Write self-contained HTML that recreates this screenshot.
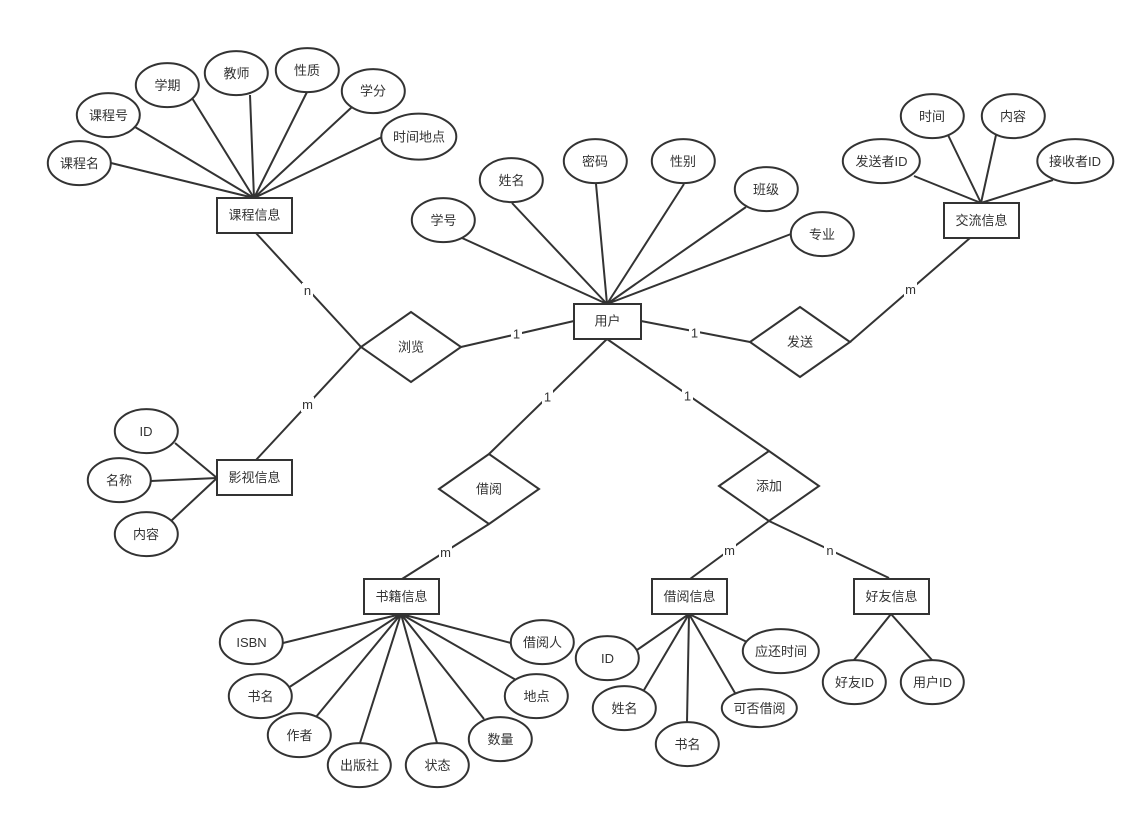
<!DOCTYPE html>
<html><head><meta charset="utf-8"><style>
html,body{margin:0;padding:0;background:#fff}
svg{display:block}
text{font-family:"Liberation Sans","Noto Sans CJK SC",sans-serif;font-size:13px;fill:#333;text-anchor:middle;dominant-baseline:central}
.l{stroke:#333;stroke-width:2;fill:none}
.s{stroke:#333;stroke-width:2;fill:#fff}
.b{fill:#fff;stroke:none}
</style></head><body>
<svg width="1145" height="819" viewBox="0 0 1145 819" xmlns="http://www.w3.org/2000/svg">
<g class="l">
<path d="M111 163L254 198M135 127L254 198M192 98L254 198M250 95L254 198M307 92L254 198M352 107L254 198M382 137L254 198"/>
<path d="M462 238L607 304M512 203L607 304M596 184L607 304M684 184L607 304M746 207L607 304M791 234L607 304"/>
<path d="M914 176L981 203M948 135L981 203M996 135L981 203M1053 180L981 203"/>
<path d="M255 232L361 347L256 460"/>
<path d="M461 347L574 321M641 321L750 342M850 342L970 238"/>
<path d="M607 339L489 454M607 339L769 451"/>
<path d="M489 524L402 579M769 521L690 579M769 521L889 578"/>
<path d="M175 443L217 478M151 481L217 478M171 521L217 478"/>
<path d="M401 614L283 643M401 614L288 688M401 614L316 717M401 614L360 743M401 614L437 743M401 614L484 719M401 614L516 680M401 614L511 643"/>
<path d="M689 614L637 650M689 614L644 690M689 614L687 722M689 614L735 693M689 614L747 642"/>
<path d="M891 614L854 660M891 614L932 660"/>
</g>
<g class="s">
<g transform="translate(-0.2,-0.4)">
<ellipse cx="79.500" cy="163.500" rx="31.500" ry="22"/>
<ellipse cx="108.500" cy="115.500" rx="31.500" ry="22"/>
<ellipse cx="167.500" cy="85.500" rx="31.500" ry="22"/>
<ellipse cx="236.500" cy="73.500" rx="31.500" ry="22"/>
<ellipse cx="307.500" cy="70.500" rx="31.500" ry="22"/>
<ellipse cx="373.500" cy="91.500" rx="31.500" ry="22"/>
<ellipse cx="419" cy="137" rx="37.500" ry="23"/>
<ellipse cx="443.500" cy="220.500" rx="31.500" ry="22"/>
<ellipse cx="511.500" cy="180.500" rx="31.500" ry="22"/>
<ellipse cx="595.500" cy="161.500" rx="31.500" ry="22"/>
<ellipse cx="683.500" cy="161.500" rx="31.500" ry="22"/>
<ellipse cx="766.500" cy="189.500" rx="31.500" ry="22"/>
<ellipse cx="822.500" cy="234.500" rx="31.500" ry="22"/>
<ellipse cx="932.500" cy="116.500" rx="31.500" ry="22"/>
<ellipse cx="1013.500" cy="116.500" rx="31.500" ry="22"/>
<ellipse cx="881.500" cy="161.500" rx="38.500" ry="22"/>
<ellipse cx="1075.500" cy="161.500" rx="38" ry="22"/>
<ellipse cx="146.500" cy="431.500" rx="31.500" ry="22"/>
<ellipse cx="119.500" cy="480.500" rx="31.500" ry="22"/>
<ellipse cx="146.500" cy="534.500" rx="31.500" ry="22"/>
<ellipse cx="251.500" cy="642.500" rx="31.500" ry="22"/>
<ellipse cx="260.500" cy="696.500" rx="31.500" ry="22"/>
<ellipse cx="299.500" cy="735.500" rx="31.500" ry="22"/>
<ellipse cx="359.500" cy="765.500" rx="31.500" ry="22"/>
<ellipse cx="437.500" cy="765.500" rx="31.500" ry="22"/>
<ellipse cx="500.500" cy="739.500" rx="31.500" ry="22"/>
<ellipse cx="536.500" cy="696.500" rx="31.500" ry="22"/>
<ellipse cx="542.500" cy="642.500" rx="31.500" ry="22"/>
<ellipse cx="607.500" cy="658.500" rx="31.500" ry="22"/>
<ellipse cx="624.500" cy="708.500" rx="31.500" ry="22"/>
<ellipse cx="687.500" cy="744.500" rx="31.500" ry="22"/>
<ellipse cx="759.500" cy="708.500" rx="37.500" ry="19"/>
<ellipse cx="781" cy="651.500" rx="38" ry="22"/>
<ellipse cx="854.500" cy="682.500" rx="31.500" ry="22"/>
<ellipse cx="932.500" cy="682.500" rx="31.500" ry="22"/>
</g>
<rect x="217" y="198" width="75" height="35"/>
<rect x="574" y="304" width="67" height="35"/>
<rect x="944" y="203" width="75" height="35"/>
<rect x="217" y="460" width="75" height="35"/>
<rect x="364" y="579" width="75" height="35"/>
<rect x="652" y="579" width="75" height="35"/>
<rect x="854" y="579" width="75" height="35"/>
<polygon points="361,347 411,312 461,347 411,382"/>
<polygon points="750,342 800,307 850,342 800,377"/>
<polygon points="439,489 489,454 539,489 489,524"/>
<polygon points="719,486 769,451 819,486 769,521"/>
</g>
<g class="b">
<rect x="302" y="283" width="11" height="15"/>
<rect x="301" y="397" width="13" height="15"/>
<rect x="511" y="326" width="11" height="16"/>
<rect x="689" y="325" width="11" height="16"/>
<rect x="904" y="282" width="13" height="15"/>
<rect x="542" y="389" width="11" height="16"/>
<rect x="682" y="388" width="11" height="16"/>
<rect x="439" y="545" width="13" height="15"/>
<rect x="723" y="543" width="13" height="15"/>
<rect x="824" y="543" width="12" height="15"/>
</g>
<text x="79.500" y="163.500">课程名</text>
<text x="108.500" y="115.500">课程号</text>
<text x="167.500" y="85.500">学期</text>
<text x="236.500" y="73.500">教师</text>
<text x="307" y="70.500">性质</text>
<text x="373" y="91">学分</text>
<text x="419" y="137">时间地点</text>
<text x="254.500" y="215">课程信息</text>
<text x="443.500" y="220.500">学号</text>
<text x="511.500" y="180.500">姓名</text>
<text x="595" y="161.500">密码</text>
<text x="683" y="161.500">性别</text>
<text x="766" y="189.500">班级</text>
<text x="822" y="234.500">专业</text>
<text x="607.500" y="321">用户</text>
<text x="932" y="116.500">时间</text>
<text x="1013" y="116.500">内容</text>
<text x="881.500" y="161.500">发送者ID</text>
<text x="1075" y="161.500">接收者ID</text>
<text x="981.500" y="220.500">交流信息</text>
<text x="411" y="347">浏览</text>
<text x="800" y="342">发送</text>
<text x="489" y="489">借阅</text>
<text x="769" y="486">添加</text>
<text x="146" y="431.500">ID</text>
<text x="119" y="480.500">名称</text>
<text x="146" y="534.500">内容</text>
<text x="254.500" y="477.500">影视信息</text>
<text x="401.500" y="596.500">书籍信息</text>
<text x="689.500" y="596.500">借阅信息</text>
<text x="891.500" y="596.500">好友信息</text>
<text x="251.500" y="642.500">ISBN</text>
<text x="260.500" y="696.500">书名</text>
<text x="299.500" y="735.500">作者</text>
<text x="359.500" y="765.500">出版社</text>
<text x="437.500" y="765.500">状态</text>
<text x="500.500" y="739.500">数量</text>
<text x="536.500" y="696.500">地点</text>
<text x="542.500" y="642.500">借阅人</text>
<text x="607.500" y="658.500">ID</text>
<text x="624.500" y="708.500">姓名</text>
<text x="687.500" y="744.500">书名</text>
<text x="759.500" y="708.500">可否借阅</text>
<text x="781" y="651.500">应还时间</text>
<text x="854.500" y="682.500">好友ID</text>
<text x="932.500" y="682.500">用户ID</text>
<text x="307.500" y="290.500">n</text>
<text x="307.500" y="404.500">m</text>
<text x="516.500" y="334">1</text>
<text x="694.500" y="333">1</text>
<text x="910.500" y="289.500">m</text>
<text x="547.500" y="397">1</text>
<text x="687.500" y="396">1</text>
<text x="445.500" y="552.500">m</text>
<text x="729.500" y="550.500">m</text>
<text x="830" y="550.500">n</text>
</svg>
</body></html>
